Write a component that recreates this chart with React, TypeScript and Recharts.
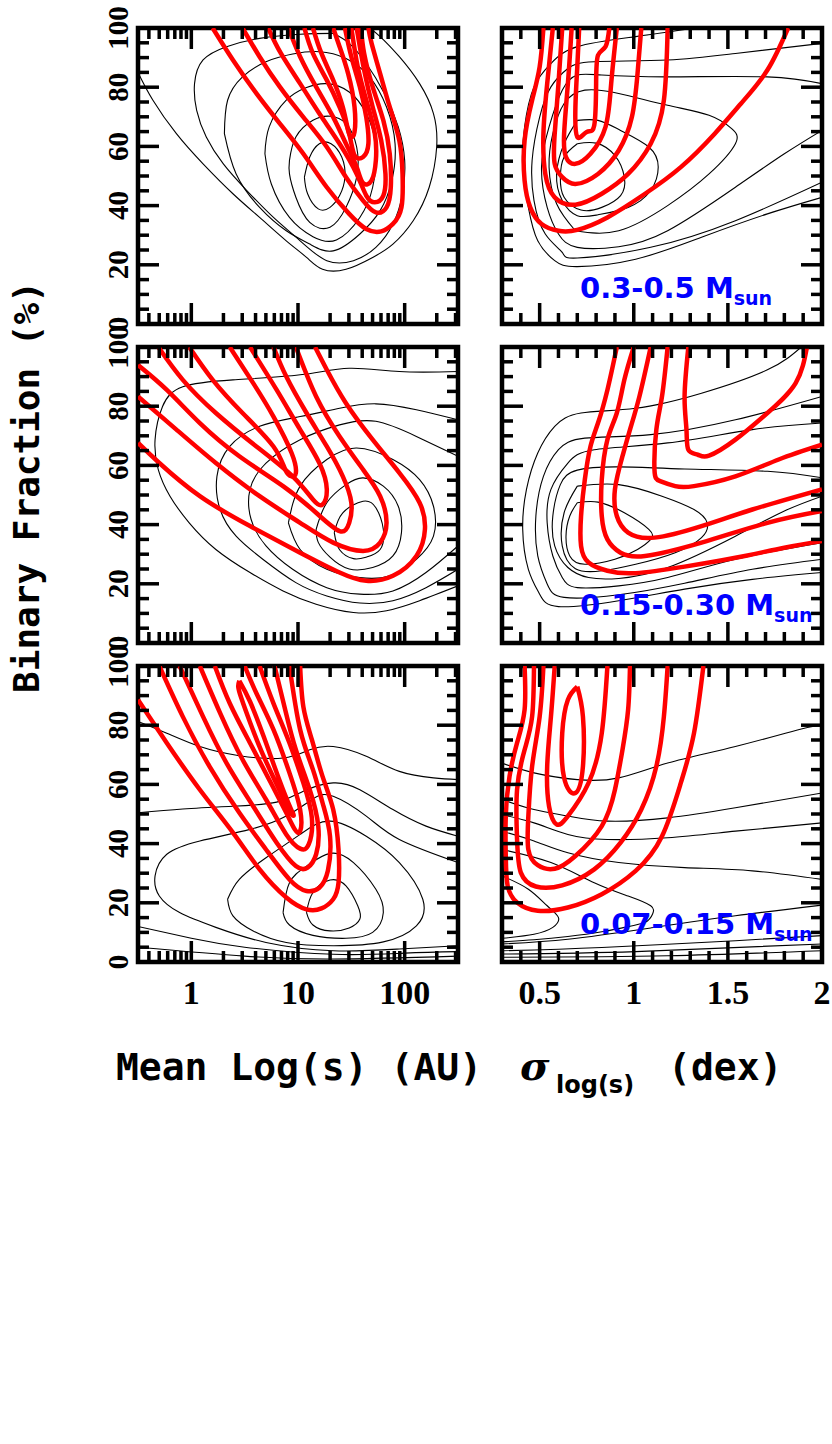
import React from 'react';
import { ScatterChart, Scatter, XAxis, YAxis, ReferenceArea } from 'recharts';

type Curve = number[][];

// axis ticks
const auTicks = [0.4, 0.5, 0.6, 0.7, 0.8, 0.9, 1, 2, 3, 4, 5, 6, 7, 8, 9, 10, 20, 30, 40, 50, 60, 70, 80, 90, 100, 200, 300];
const logTicks = auTicks.map((v) => Math.log10(v));
const sigmaTicks = [0.3, 0.4, 0.5, 0.6, 0.7, 0.8, 0.9, 1, 1.1, 1.2, 1.3, 1.4, 1.5, 1.6, 1.7, 1.8, 1.9, 2];
const fracTicks = [0, 5, 10, 15, 20, 25, 30, 35, 40, 45, 50, 55, 60, 65, 70, 75, 80, 85, 90, 95, 100];
const massBins = ['0.3-0.5', '0.15-0.30', '0.07-0.15'];

// 0.3-0.5 Msun, mean log(s) vs binary fraction
const tlBlack: Curve[] = [
  [[-0.5, 85], [-0.36, 75.6], [-0.14, 64.3], [0.11, 54.1], [0.39, 44], [0.64, 36], [0.89, 28.1], [1.08, 22.5], [1.23, 18.5], [1.45, 18.5], [1.7, 22.5], [1.89, 27], [2.08, 34.9], [2.23, 46.2], [2.3, 59.8], [2.27, 71.1], [2.14, 81.2], [1.95, 90.3], [1.77, 97.1], [1.67, 100]],
  [[1.33, 98.2], [1.02, 97.9], [0.64, 96.5], [0.33, 93.7], [0.11, 89.2], [0.03, 81.2], [0.05, 72.2], [0.14, 63.2], [0.3, 54.1], [0.52, 45.1], [0.77, 36], [1.02, 28.1], [1.27, 21.4], [1.52, 21.4], [1.73, 25.9], [1.89, 33.8], [1.98, 44], [2, 55.3], [1.94, 66.6], [1.81, 77.9], [1.64, 88], [1.48, 94.8], [1.33, 98.2]],
  [[0.31, 64.3], [0.34, 75.6], [0.48, 83.5], [0.7, 88.6], [0.95, 91.2], [1.2, 92], [1.45, 89.7], [1.67, 83.5], [1.83, 73.3], [1.91, 60.9], [1.88, 48.5], [1.77, 38.3], [1.58, 30.4], [1.33, 24.7], [1.11, 27], [0.89, 31.5], [0.64, 39.4], [0.42, 50.7], [0.31, 64.3]],
  [[0.69, 57.5], [0.73, 66.6], [0.89, 75.6], [1.08, 79.9], [1.27, 81.2], [1.48, 78.4], [1.64, 71.1], [1.73, 59.8], [1.7, 46.2], [1.58, 36], [1.36, 28.4], [1.14, 29.5], [0.92, 36], [0.75, 47.3], [0.69, 57.5]],
  [[0.92, 55.3], [0.98, 63.2], [1.14, 68.8], [1.3, 70.2], [1.45, 67.7], [1.55, 59.8], [1.55, 49.6], [1.45, 39.4], [1.3, 32.7], [1.11, 34.3], [0.98, 42.8], [0.92, 50.7], [0.92, 55.3]],
  [[1.06, 49.6], [1.11, 56.4], [1.2, 60.9], [1.31, 60.9], [1.41, 56.4], [1.44, 49.6], [1.39, 43.4], [1.3, 39.4], [1.19, 38.9], [1.09, 44], [1.06, 49.6]],
];
const tlRed: Curve[] = [
  [[0.2, 100], [0.39, 89.2], [0.61, 77.9], [0.83, 67.7], [1.05, 57.5], [1.27, 46.2], [1.48, 37.2], [1.64, 32.1], [1.78, 31.3], [1.89, 33.8], [1.97, 39.4], [1.98, 50.7], [1.95, 62], [1.86, 73.3], [1.77, 84.6], [1.69, 94.8], [1.66, 100]],
  [[0.48, 100], [0.64, 90.3], [0.83, 80.1], [1.05, 69.9], [1.27, 59.8], [1.45, 49.6], [1.61, 41.7], [1.73, 37.7], [1.83, 39.4], [1.87, 46.2], [1.86, 57.5], [1.8, 68.8], [1.7, 80.1], [1.62, 91.4], [1.59, 100]],
  [[0.72, 100], [0.84, 91.4], [1.02, 81.2], [1.2, 71.1], [1.39, 60.9], [1.55, 50.7], [1.64, 43.4], [1.72, 41.1], [1.8, 43.4], [1.82, 50.7], [1.78, 62], [1.7, 73.3], [1.62, 85.8], [1.55, 100]],
  [[0.91, 100], [1.02, 90.3], [1.17, 80.1], [1.33, 69.9], [1.45, 60.9], [1.55, 53], [1.61, 47.6], [1.69, 48.5], [1.73, 55.3], [1.72, 64.3], [1.64, 75.6], [1.56, 86.9], [1.5, 100]],
  [[1.06, 100], [1.14, 91.4], [1.27, 82.4], [1.39, 73.3], [1.48, 64.3], [1.53, 57], [1.61, 56.4], [1.66, 60.9], [1.64, 69.9], [1.58, 80.1], [1.5, 90.3], [1.44, 100]],
  [[1.14, 100], [1.22, 91.4], [1.33, 82.4], [1.42, 73.3], [1.47, 65.4], [1.5, 63.2], [1.53, 64.9], [1.53, 73.3], [1.47, 84.6], [1.39, 93.7], [1.33, 100]],
];

// 0.3-0.5 Msun, sigma vs binary fraction
const trBlack: Curve[] = [
  [[1.32, 100], [1.01, 97.1], [0.7, 93.7], [0.56, 88], [0.47, 80.1], [0.42, 66.6], [0.41, 53], [0.44, 39.4], [0.49, 28.1], [0.58, 21.4], [0.7, 19.4], [1.01, 21.9], [1.36, 29.3], [1.71, 37.2], [2, 42.8]],
  [[2, 94.8], [1.54, 91.4], [1.18, 89.2], [0.79, 88.6], [0.65, 86.3], [0.56, 80.1], [0.5, 69.9], [0.46, 55.3], [0.47, 41.7], [0.53, 30.4], [0.62, 24.2], [0.7, 22.3], [1.09, 25.9], [1.54, 34.9], [2, 47.9]],
  [[2, 81.2], [1.71, 83.5], [1.18, 83.5], [0.83, 84.1], [0.7, 84.1], [0.62, 79], [0.55, 66.6], [0.51, 53], [0.54, 39.4], [0.6, 30.4], [0.7, 25.9], [0.92, 26.1], [1.18, 31.5], [1.54, 46.2], [1.8, 57.5], [2, 65.4]],
  [[0.69, 31.5], [0.92, 31.5], [1.18, 40], [1.4, 50.7], [1.54, 60.9], [1.52, 66], [1.4, 70.5], [1.18, 73.9], [0.92, 77.9], [0.74, 79], [0.63, 74.5], [0.57, 64.3], [0.55, 53], [0.59, 40.6], [0.69, 31.5]],
  [[0.7, 68.8], [0.81, 68.8], [0.93, 65.4], [1.08, 59.8], [1.13, 53], [1.09, 45.1], [0.97, 39.4], [0.81, 36.9], [0.7, 36.6], [0.62, 41.7], [0.59, 50.7], [0.63, 60.9], [0.7, 68.8]],
  [[0.7, 60.9], [0.8, 61.1], [0.9, 56.9], [0.95, 49.6], [0.93, 43.4], [0.83, 39.4], [0.72, 38.5], [0.63, 42.8], [0.61, 49.6], [0.63, 56.4], [0.7, 60.9]],
];
const trRed: Curve[] = [
  [[0.52, 100], [0.5, 86.9], [0.46, 75.6], [0.42, 62], [0.42, 48.5], [0.45, 39.4], [0.51, 33.8], [0.6, 31.5], [0.7, 31.8], [0.86, 36], [1.06, 44], [1.25, 53], [1.43, 64.3], [1.57, 74.5], [1.71, 85.8], [1.82, 100]],
  [[0.57, 100], [0.54, 81.2], [0.52, 64.3], [0.53, 50.7], [0.58, 42.8], [0.69, 40.3], [0.83, 44], [0.97, 50.7], [1.09, 60.9], [1.16, 75.6], [1.18, 100]],
  [[0.62, 100], [0.6, 81.2], [0.58, 64.3], [0.58, 54.1], [0.62, 49.6], [0.69, 47.3], [0.81, 50.7], [0.92, 58.6], [0.99, 69.9], [1.02, 84.6], [1.04, 100]],
  [[0.67, 100], [0.65, 81.2], [0.63, 64.3], [0.64, 56.4], [0.69, 54.1], [0.77, 57.5], [0.85, 66.6], [0.88, 81.2], [0.91, 100]],
  [[0.71, 100], [0.7, 86.9], [0.69, 73.3], [0.7, 63.2], [0.75, 64.9], [0.79, 67.1], [0.8, 81.2], [0.81, 90.8], [0.85, 93.7], [0.87, 100]],
];

// 0.15-0.30 Msun
const mlBlack: Curve[] = [
  [[2.5, 91.7], [1.95, 91.7], [1.48, 92.8], [1.02, 90.6], [0.39, 88.9], [-0.08, 86.6], [-0.27, 79.9], [-0.34, 68.7], [-0.31, 58.6], [-0.2, 49.6], [-0.02, 40.6], [0.23, 31.6], [0.55, 23.8], [0.86, 17.6], [1.17, 13.1], [1.52, 10.3], [1.83, 10.9], [2.14, 14.3], [2.5, 19.3]],
  [[2.5, 75.4], [2.11, 78.8], [1.73, 80.8], [1.39, 79.3], [1.02, 76.5], [0.64, 73.2], [0.36, 66.4], [0.24, 56.3], [0.27, 45.1], [0.42, 36.1], [0.67, 28.3], [0.98, 20.4], [1.27, 15.9], [1.58, 13.5], [1.89, 14.3], [2.2, 18.7], [2.5, 24.9]],
  [[2.5, 63.1], [2.11, 69.8], [1.73, 74.9], [1.39, 73.7], [1.02, 68.7], [0.7, 60.8], [0.55, 51.9], [0.56, 41.8], [0.7, 32.8], [0.95, 24.9], [1.27, 18.7], [1.58, 16.5], [1.89, 17.6], [2.2, 23.8], [2.5, 32.8]],
  [[0.91, 40.6], [1.02, 53], [1.27, 62], [1.55, 65.9], [1.89, 62], [2.14, 55.2], [2.27, 46.2], [2.27, 36.1], [2.11, 28.3], [1.86, 22.7], [1.58, 22.1], [1.27, 24.9], [1.02, 31.6], [0.91, 40.6]],
  [[1.17, 38.4], [1.27, 47.4], [1.45, 53.5], [1.61, 55.8], [1.8, 53], [1.94, 46.2], [1.97, 37.3], [1.89, 29.4], [1.7, 25.5], [1.48, 25], [1.3, 29], [1.19, 34], [1.17, 38.4]],
  [[1.34, 37.3], [1.42, 44], [1.61, 47.9], [1.73, 45.7], [1.8, 38.4], [1.77, 31.6], [1.64, 29], [1.52, 28.5], [1.39, 31.5], [1.34, 37.3]],
];
const mlRed: Curve[] = [
  [[-0.5, 67.6], [-0.3, 60.8], [0.08, 49.6], [0.55, 39.5], [1.02, 30.5], [1.39, 23.8], [1.64, 21], [1.89, 22.7], [2.11, 29.4], [2.19, 38.4], [2.14, 47.4], [1.95, 57.5], [1.7, 68.7], [1.45, 81], [1.27, 92.3], [1.16, 100]],
  [[-0.5, 83.3], [-0.14, 72.1], [0.23, 60.8], [0.64, 49.6], [1.02, 40.6], [1.33, 33.9], [1.61, 31.1], [1.77, 33.9], [1.83, 40.6], [1.77, 49.6], [1.61, 58.6], [1.39, 69.8], [1.17, 83.3], [0.98, 100]],
  [[-0.5, 93.9], [-0.23, 85.5], [0.08, 74.3], [0.45, 63.1], [0.86, 53], [1.17, 44], [1.39, 37.8], [1.48, 40.6], [1.5, 47.4], [1.42, 56.3], [1.27, 66.4], [1.08, 77.7], [0.89, 90], [0.77, 100]],
  [[-0.31, 100], [-0.08, 88.9], [0.23, 77.7], [0.61, 66.4], [0.95, 56.3], [1.14, 48.5], [1.23, 46.8], [1.27, 51.9], [1.2, 60.8], [1.02, 72.1], [0.8, 85.5], [0.55, 100]],
  [[-0.02, 100], [0.2, 88.9], [0.48, 77.7], [0.77, 66.4], [0.88, 58.6], [0.94, 56.3], [0.98, 57.5], [0.94, 64.2], [0.77, 76.5], [0.58, 87.8], [0.36, 100]],
];
const mrBlack: Curve[] = [
  [[1.89, 100], [1.71, 92.3], [1.36, 84.4], [1.01, 79.3], [0.72, 77.7], [0.58, 73.2], [0.49, 64.2], [0.43, 51.9], [0.41, 38.4], [0.44, 24.9], [0.5, 16.5], [0.6, 12.3], [0.92, 14.3], [1.27, 18.2], [1.63, 21.5], [2, 23.8]],
  [[2, 83.3], [1.54, 75.4], [1.09, 70.4], [0.74, 69.2], [0.6, 65.3], [0.52, 56.3], [0.48, 42.9], [0.49, 29.4], [0.54, 19.9], [0.63, 15.4], [0.92, 16.3], [1.27, 20.2], [1.63, 24.9], [2, 28.3]],
  [[2, 74.3], [1.63, 72.1], [1.18, 67.6], [0.79, 65.3], [0.65, 60.8], [0.56, 51.9], [0.54, 40.6], [0.57, 29.4], [0.62, 22.1], [0.7, 18.7], [0.92, 19.3], [1.18, 22.1], [1.54, 28.3], [2, 33.9]],
  [[2, 55.8], [1.71, 58], [1.27, 58.8], [0.92, 59.5], [0.7, 58.4], [0.61, 53.5], [0.57, 42.9], [0.58, 32.8], [0.65, 25.5], [0.76, 22.1], [0.92, 21.8], [1.18, 25.5], [1.54, 36.1], [1.8, 44.6], [2, 49.6]],
  [[0.7, 53], [0.92, 53.5], [1.15, 49.6], [1.32, 45.1], [1.39, 40.6], [1.36, 35.6], [1.22, 30.5], [1.01, 26.6], [0.83, 24.4], [0.69, 25.1], [0.62, 32.8], [0.63, 44], [0.7, 53]],
  [[0.7, 47.4], [0.81, 47.6], [0.95, 44], [1.08, 38.4], [1.09, 35], [1.02, 31.6], [0.9, 28.3], [0.74, 26.6], [0.66, 29.4], [0.64, 36.1], [0.66, 42.9], [0.7, 47.4]],
];
const mrRed: Curve[] = [
  [[0.91, 100], [0.86, 85.5], [0.81, 74.3], [0.77, 66.4], [0.74, 55.2], [0.72, 42.9], [0.72, 32.8], [0.76, 27.2], [0.86, 24.4], [1.01, 23.6], [1.27, 25.8], [1.54, 28.8], [1.8, 32.2], [2, 34.5]],
  [[1, 100], [0.95, 88.9], [0.91, 77.7], [0.86, 68.7], [0.83, 55.2], [0.83, 42.9], [0.86, 35], [0.93, 30.5], [1.06, 29.4], [1.36, 33.9], [1.71, 40.6], [2, 44.6]],
  [[1.09, 100], [1.03, 83.3], [0.98, 72.1], [0.94, 63.1], [0.9, 51.9], [0.91, 42.9], [0.97, 37.3], [1.11, 35.6], [1.36, 39.5], [1.63, 45.1], [2, 51.9]],
  [[1.18, 100], [1.15, 83.3], [1.12, 72.1], [1.11, 58.6], [1.14, 54.7], [1.22, 53], [1.32, 53], [1.54, 56.3], [1.77, 62], [2, 67]],
  [[1.29, 100], [1.27, 83.3], [1.28, 72.1], [1.29, 65.3], [1.34, 63.6], [1.4, 63.3], [1.54, 68.7], [1.71, 77.7], [1.86, 87.8], [1.92, 100]],
];

// 0.07-0.15 Msun
const blBlack: Curve[] = [
  [[-0.5, 81.3], [-0.23, 77.3], [0.08, 72.8], [0.45, 69.7], [0.86, 68.9], [1.11, 71.7], [1.33, 72.8], [1.64, 69.5], [1.95, 64.4], [2.27, 62.2], [2.5, 61.6]],
  [[-0.5, 50.4], [-0.08, 51.7], [0.39, 52.6], [0.8, 54], [1.05, 57.7], [1.33, 60.5], [1.58, 58.2], [1.89, 51.5], [2.2, 45.9], [2.5, 42.5]],
  [[2.5, 33.6], [1.95, 41.4], [1.64, 49.3], [1.33, 56], [1.14, 55.1], [0.89, 49.3], [0.55, 44.8], [0.08, 40.9], [-0.23, 36.4], [-0.34, 29.1], [-0.3, 22.3], [-0.11, 16.7], [0.23, 11.7], [0.7, 6.6], [1.33, 3.8], [1.95, 4.4], [2.5, 5.5]],
  [[0.34, 21.2], [0.45, 27.9], [0.7, 35.2], [1.02, 43.1], [1.3, 47.6], [1.64, 42.5], [1.95, 33.6], [2.17, 21.2], [2.11, 12.2], [1.8, 6.8], [1.33, 5.5], [0.89, 6.6], [0.58, 10.5], [0.39, 15.6], [0.34, 21.2]],
  [[0.86, 16.7], [0.92, 26.8], [1.08, 32.4], [1.3, 36.7], [1.52, 33.6], [1.73, 24.6], [1.8, 16.7], [1.7, 10], [1.45, 8], [1.14, 9], [0.92, 12.5], [0.86, 16.7]],
  [[1.08, 16.7], [1.14, 23.5], [1.3, 27.7], [1.45, 25.7], [1.56, 19], [1.58, 14.5], [1.48, 11.5], [1.3, 10.5], [1.14, 12.5], [1.08, 16.7]],
  [[-0.5, 12], [0, 8], [0.5, 5], [1.33, 2.6], [2, 3], [2.5, 3.5]],
  [[-0.5, 5], [0.5, 2], [1.33, 1], [2.5, 2]],
];
const blRed: Curve[] = [
  [[-0.5, 88.6], [-0.23, 74], [0.08, 58.2], [0.39, 43.7], [0.64, 31.3], [0.89, 21.8], [1.08, 17.8], [1.22, 18.1], [1.33, 21.2], [1.38, 26.8], [1.38, 38], [1.33, 51.5], [1.23, 62.7], [1.13, 75.1], [1.05, 86.3], [1.02, 100]],
  [[-0.3, 100], [-0.08, 82.9], [0.17, 66.1], [0.45, 50.4], [0.7, 38], [0.92, 27.9], [1.08, 24], [1.2, 25.1], [1.28, 30.8], [1.3, 42.5], [1.23, 53.8], [1.14, 65], [1.02, 78.5], [0.92, 100]],
  [[-0.11, 100], [0.11, 82.9], [0.33, 67.2], [0.58, 52.6], [0.8, 40.3], [0.98, 32.4], [1.09, 31.9], [1.17, 36.4], [1.19, 45.9], [1.11, 58.2], [0.98, 71.7], [0.88, 85.2], [0.78, 100]],
  [[0.08, 100], [0.27, 84.1], [0.48, 68.4], [0.7, 54.9], [0.89, 43.1], [1.02, 38.3], [1.1, 39.7], [1.13, 48.7], [1.05, 60.5], [0.92, 74], [0.77, 87.4], [0.64, 100]],
  [[0.22, 100], [0.36, 87.4], [0.55, 74], [0.73, 61.6], [0.89, 50.4], [0.97, 44.8], [1.02, 44.2], [1.02, 51.5], [0.92, 63.9], [0.77, 78.5], [0.61, 90.8], [0.5, 100]],
  [[0.45, 95], [0.55, 88], [0.68, 76], [0.82, 62], [0.93, 52], [0.96, 49.5], [0.92, 51], [0.8, 60], [0.66, 71], [0.55, 81], [0.47, 89], [0.44, 93], [0.45, 95]],
];
const brBlack: Curve[] = [
  [[0.3, 67.2], [0.47, 63.9], [0.7, 61.6], [0.92, 62.2], [1.18, 67.2], [1.54, 72.8], [1.89, 78.7], [2, 79.8]],
  [[0.3, 54.9], [0.47, 51.5], [0.65, 49.3], [0.86, 47.6], [1.18, 48.7], [1.54, 52.1], [2, 57.1]],
  [[0.3, 49.8], [0.47, 47], [0.65, 43.1], [0.86, 41.4], [1.18, 42], [1.54, 44.2], [2, 47]],
  [[0.3, 44.2], [0.47, 40.9], [0.65, 36.9], [0.92, 33.6], [1.27, 31.9], [1.63, 30.8], [2, 27.9]],
  [[0.3, 38], [0.56, 33.6], [0.79, 26.8], [0.97, 22.3], [1.09, 19], [1.1, 16.2], [1.06, 13.4], [0.95, 11.7], [0.83, 10.2], [0.65, 8.6], [0.47, 7.5], [0.3, 6.8]],
  [[0.3, 29.1], [0.44, 24.6], [0.54, 19], [0.6, 15], [0.57, 11.7], [0.47, 9.4], [0.3, 8]],
  [[0.3, 6.1], [0.65, 7.7], [1.09, 11.5], [1.54, 15.6], [2, 19.2]],
  [[0.3, 3.8], [0.83, 4.9], [1.54, 7.2], [2, 8.9]],
  [[0.3, 2.7], [1.01, 3.5], [2, 6.1]],
  [[0.3, 1.6], [1.18, 2.1], [2, 3.8]],
];
const brRed: Curve[] = [
  [[0.42, 100], [0.42, 85.2], [0.38, 74], [0.34, 62.7], [0.32, 49.3], [0.32, 35.8], [0.33, 25.7], [0.38, 20.1], [0.49, 17.3], [0.65, 18.4], [0.83, 22.9], [1.01, 30.8], [1.15, 42.5], [1.25, 60.5], [1.32, 77.3], [1.37, 100]],
  [[0.47, 100], [0.46, 82.9], [0.42, 71.7], [0.38, 58.2], [0.38, 41.4], [0.4, 30.2], [0.48, 25.5], [0.62, 25.9], [0.79, 31.3], [0.93, 40.3], [1.04, 51.5], [1.12, 66.1], [1.16, 82.9], [1.18, 100]],
  [[0.52, 100], [0.5, 82.9], [0.46, 66.1], [0.44, 49.3], [0.44, 38], [0.49, 32.7], [0.58, 31.5], [0.69, 35.8], [0.83, 45.9], [0.9, 58.2], [0.94, 71.7], [0.97, 85.2], [0.98, 100]],
  [[0.58, 100], [0.56, 82.9], [0.54, 66.1], [0.55, 52.6], [0.59, 46.5], [0.65, 49.3], [0.76, 60.5], [0.83, 77.3], [0.86, 100]],
  [[0.7, 93], [0.73, 82.9], [0.73, 66.1], [0.69, 57.1], [0.63, 62.2], [0.62, 77.3], [0.65, 88.6], [0.7, 93]],
];

const W = 320;
const H = 296;
const ML = 70;
const MR = 12;
const MT = 30;
const MB = 60;
const AX = 1; // axis band kept at 1px so recharts still draws the ticks
const MAJOR = 21;
const MINOR = 11;
const TICK_FONT = 'Liberation Serif';

const noDot = () => <g />;

type PanelProps = {
  left: number;
  top: number;
  log: boolean;
  black: Curve[];
  red: Curve[];
  showX: boolean;
  showY: boolean;
};

function Panel({ left, top, log, black, red, showX, showY }: PanelProps) {
  const xDomain = log ? [-0.5, 2.5] : [0.3, 2];

  const xTick = (p: any) => {
    const { x, y, payload } = p;
    const v: number = payload.value;
    const major = log ? Math.abs(v - Math.round(v)) < 1e-6 : Math.abs(v * 2 - Math.round(v * 2)) < 1e-6;
    const len = major ? MAJOR : MINOR;
    const label = log ? String(Math.round(Math.pow(10, v))) : String(Math.round(v * 10) / 10);
    return (
      <g>
        <line x1={x} y1={y} x2={x} y2={y - len} stroke="#000" strokeWidth={3.5} />
        <line x1={x} y1={y - H} x2={x} y2={y - H + len} stroke="#000" strokeWidth={3.5} />
        {showX && major ? (
          <text x={x} y={y + 42} textAnchor="middle" fontFamily={TICK_FONT} fontWeight="bold" fontSize={34} fill="#000">
            {label}
          </text>
        ) : null}
      </g>
    );
  };

  const yTick = (p: any) => {
    const { x, y, payload } = p;
    const v: number = payload.value;
    const major = v % 20 === 0;
    const len = major ? MAJOR : MINOR;
    return (
      <g>
        <line x1={x} y1={y} x2={x + len} y2={y} stroke="#000" strokeWidth={3.5} />
        <line x1={x + W} y1={y} x2={x + W - len} y2={y} stroke="#000" strokeWidth={3.5} />
        {showY && major ? (
          <text
            transform={`translate(${x - 10},${y}) rotate(-90)`}
            textAnchor="middle"
            fontFamily={TICK_FONT}
            fontWeight="bold"
            fontSize={29}
            fill="#000"
          >
            {v}
          </text>
        ) : null}
      </g>
    );
  };

  return (
    <div style={{ position: 'absolute', left: left - ML - AX, top: top - MT }}>
      <ScatterChart
        width={W + ML + MR + AX}
        height={H + MT + MB + AX}
        margin={{ top: MT, right: MR, bottom: MB, left: ML }}
      >
        <XAxis
          xAxisId="x"
          type="number"
          dataKey="x"
          domain={xDomain}
          ticks={log ? logTicks : sigmaTicks}
          interval={0}
          allowDataOverflow
          height={AX}
          tickSize={0}
          tickMargin={0}
          tickLine={false}
          axisLine={false}
          tick={xTick}
        />
        <YAxis
          yAxisId="y"
          type="number"
          dataKey="y"
          domain={[0, 100]}
          ticks={fracTicks}
          interval={0}
          allowDataOverflow
          width={AX}
          tickSize={0}
          tickMargin={0}
          tickLine={false}
          axisLine={false}
          tick={yTick}
        />
        {black.map((c, i) => (
          <Scatter
            key={`k${i}`}
            xAxisId="x"
            yAxisId="y"
            data={c.map(([x, y]) => ({ x, y }))}
            line={{ stroke: '#000', strokeWidth: 1.1 }}
            lineJointType="natural"
            shape={noDot}
            isAnimationActive={false}
          />
        ))}
        {red.map((c, i) => (
          <Scatter
            key={`r${i}`}
            xAxisId="x"
            yAxisId="y"
            data={c.map(([x, y]) => ({ x, y }))}
            line={{ stroke: '#ff0000', strokeWidth: 4.5 }}
            lineJointType="natural"
            shape={noDot}
            isAnimationActive={false}
          />
        ))}
        <ReferenceArea
          xAxisId="x"
          yAxisId="y"
          x1={xDomain[0]}
          x2={xDomain[1]}
          y1={0}
          y2={100}
          fill="none"
          stroke="#000"
          strokeWidth={4.5}
          ifOverflow="visible"
        />
      </ScatterChart>
    </div>
  );
}

const rowTops = [28, 347, 666];
const labelBaselines = [298, 615, 934];

export default function App() {
  const rows = [
    { black: tlBlack, red: tlRed, sBlack: trBlack, sRed: trRed },
    { black: mlBlack, red: mlRed, sBlack: mrBlack, sRed: mrRed },
    { black: blBlack, red: blRed, sBlack: brBlack, sRed: brRed },
  ];
  return (
    <div style={{ position: 'absolute', left: 0, top: 0, width: 832, height: 1444, overflow: 'hidden', background: '#fff' }}>
      {rows.map((r, i) => (
        <React.Fragment key={i}>
          <Panel left={138} top={rowTops[i]} log black={r.black} red={r.red} showX={i === 2} showY />
          <Panel left={502} top={rowTops[i]} log={false} black={r.sBlack} red={r.sRed} showX={i === 2} showY={false} />
        </React.Fragment>
      ))}
      <svg width={832} height={1444} style={{ position: 'absolute', left: 0, top: 0, pointerEvents: 'none' }}>
        <text
          transform="translate(39,487) rotate(-90)"
          textAnchor="middle"
          fontFamily="DejaVu Sans Mono"
          fontWeight="bold"
          fontSize={36}
          fill="#000"
        >
          Binary Fraction (%)
        </text>
        <text x={299} y={1080} textAnchor="middle" fontFamily="DejaVu Sans Mono" fontWeight="bold" fontSize={38} fill="#000">
          Mean Log(s) (AU)
        </text>
        <text x={520} y={1080} fontFamily="DejaVu Serif" fontStyle="italic" fontWeight="bold" fontSize={40} fill="#000">
          σ
        </text>
        <text x={556} y={1093} fontFamily="DejaVu Sans" fontWeight="bold" fontSize={24} fill="#000">
          log(s)
        </text>
        <text x={668} y={1080} fontFamily="DejaVu Sans Mono" fontWeight="bold" fontSize={38} fill="#000">
          (dex)
        </text>
        {massBins.map((m, i) => (
          <text key={m} x={580} y={labelBaselines[i]} fontFamily="DejaVu Sans" fontWeight="bold" fontSize={29} fill="#0000ff">
            {m} M
            <tspan fontSize={19} dy={7}>
              sun
            </tspan>
          </text>
        ))}
      </svg>
    </div>
  );
}
